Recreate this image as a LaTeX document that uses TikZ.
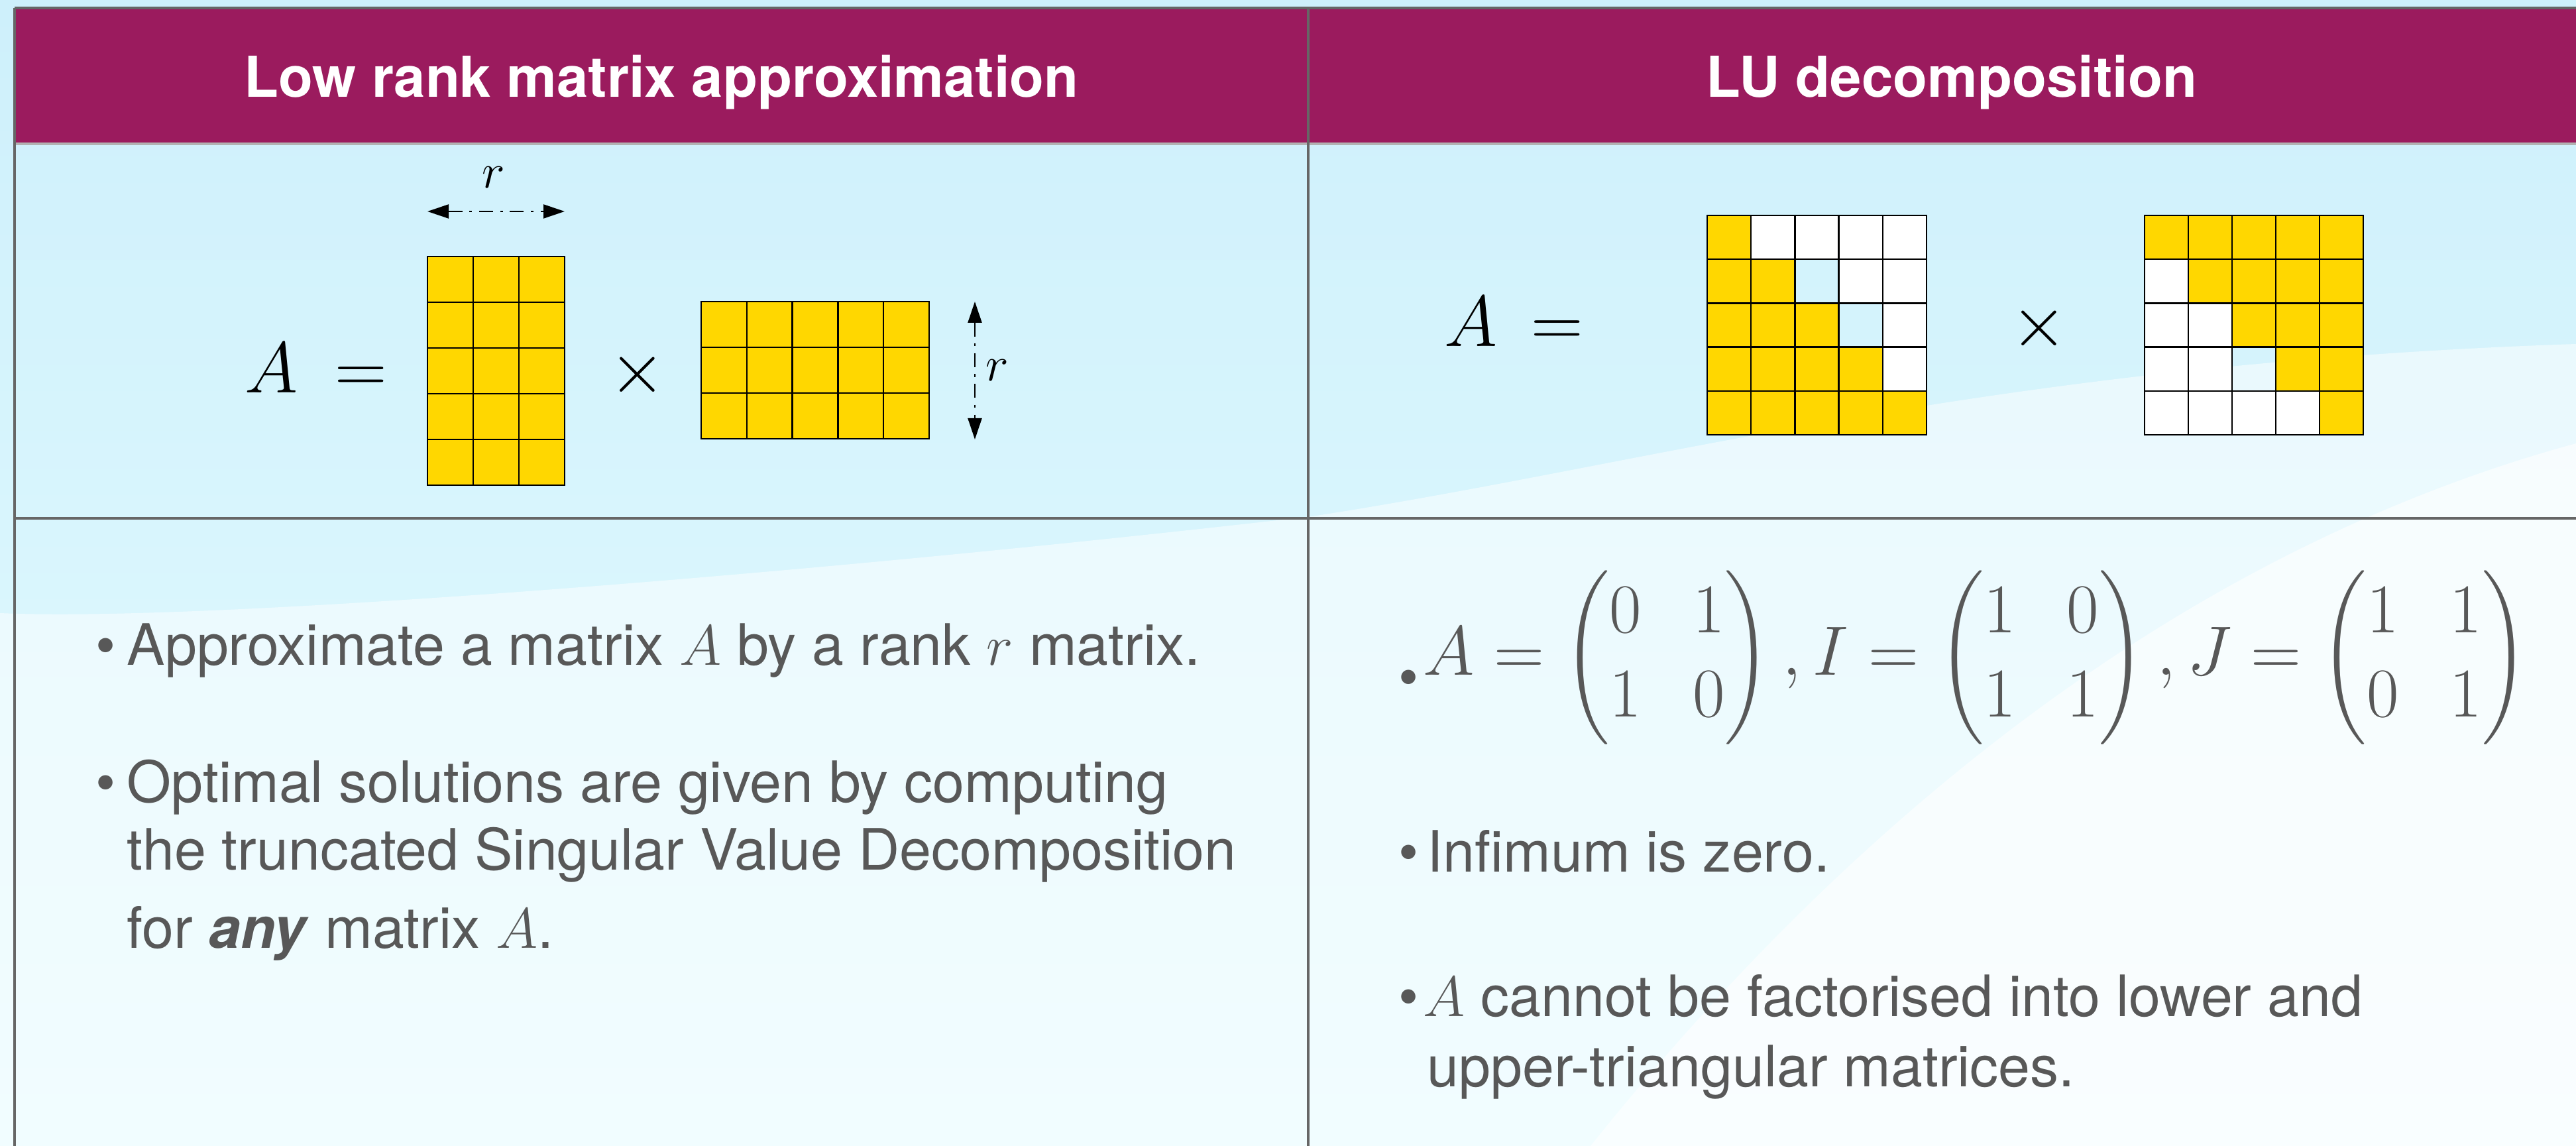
\RequirePackage{fix-cm}
\documentclass[tikz,border=0pt]{standalone}
\usepackage{amsmath}
\usepackage{fontspec}
\setmainfont{TeX Gyre Heros}
\usepackage{tikz}
\usetikzlibrary{arrows.meta, positioning, calc}

\definecolor{hdrplum}{RGB}{155,27,94}
\definecolor{yel}{RGB}{255,215,0}
\definecolor{txtgrey}{RGB}{88,88,88}
\definecolor{skytop}{RGB}{206,240,251}
\definecolor{skylow}{RGB}{228,251,255}

\begin{document}
\begin{tikzpicture}[
    hdr/.style   ={font=\fontsize{24.2}{29}\selectfont\bfseries, text=white, anchor=base, inner sep=0pt},
    txt/.style   ={font=\fontsize{24.5}{29}\selectfont, text=txtgrey, anchor=base west, inner sep=0pt},
    bigm/.style  ={font=\fontsize{31}{37}\selectfont, anchor=base, inner sep=0pt},
    lbl/.style   ={font=\fontsize{21}{25}\selectfont, anchor=base, inner sep=0pt},
    cell/.style  ={draw=black, line width=0.7pt},
    rule/.style  ={draw=black!60, line width=1pt},
    dimarr/.style={line width=0.6pt, dash pattern=on 6pt off 3pt on 1.2pt off 3pt,
                   {Triangle[length=3.2mm,width=2.1mm]}-{Triangle[length=3.2mm,width=2.1mm]}}
  ]

  %% ---- canvas ------------------------------------------------------
  \useasboundingbox (0,0) rectangle (38.87,17.29);
  \shade[top color=skytop, bottom color=skylow] (0,0) rectangle (38.87,17.29);
  \fill[white, opacity=0.5] (0,0) -- (0,8.04)
    .. controls (3,7.9) and (12,8.6) .. (19.8,9.5)
    .. controls (25,10.3) and (30,11.8) .. (38.87,12.1) -- (38.87,0) -- cycle;
  \fill[white, opacity=0.6] (24,0)
    .. controls (28,5) and (33,9) .. (38.87,10.6) -- (38.87,0) -- cycle;

  %% ---- table -------------------------------------------------------
  \fill[hdrplum] (0.22,15.12) rectangle (39,17.17);
  \draw[draw=black!30, line width=1pt] (0.22,15.12) -- (39,15.12);
  \draw[rule, line width=1.3pt] (0.22,17.17) -- (39,17.17);
  \draw[rule] (0.22,17.17) -- (0.22,-0.1);
  \draw[rule] (19.74,17.17) -- (19.74,-0.1);
  \draw[rule, line width=1.2pt] (0.22,9.47) -- (39,9.47);

  \node[hdr] (ttlLR) at (9.98,15.82) {Low rank matrix approximation};
  \node[hdr] (ttlLU) at (29.45,15.82) {LU decomposition};

  %% ---- low rank picture ---------------------------------------------
  \node[bigm] (lrA)  at (4.09,11.36) {$A$};
  \node[bigm] (lrEq) at (5.45,11.36) {$=$};
  \foreach \i in {0,...,2} \foreach \j in {0,...,4}
    \filldraw[cell, fill=yel] (6.45+0.69*\i,13.42-0.69*\j) rectangle ++(0.69,-0.69);
  \node[bigm] (lrX)  at (9.62,11.36) {$\times$};
  \foreach \i in {0,...,4} \foreach \j in {0,...,2}
    \filldraw[cell, fill=yel] (10.58+0.688*\i,12.74-0.69*\j) rectangle ++(0.688,-0.69);

  \coordinate (tallL) at (6.45,14.10);
  \coordinate (tallR) at (8.52,14.10);
  \draw[dimarr] (tallL) -- (tallR);
  \node[lbl] (rTop) at (7.45,14.45) {$r$};
  \coordinate (wideT) at (14.71,12.74);
  \coordinate (wideB) at (14.71,10.66);
  \draw[dimarr] (wideT) -- (wideB);
  \node[lbl] (rSide) at (15.05,11.54) {$r$};

  %% ---- LU picture ----------------------------------------------------
  \node[bigm] (luA)  at (22.19,12.06) {$A$};
  \node[bigm] (luEq) at (23.50,12.06) {$=$};
  \foreach \fills [count=\j from 0] in {{yel,white,white,white,white},
      {yel,yel,none,white,white},{yel,yel,yel,none,white},
      {yel,yel,yel,yel,white},{yel,yel,yel,yel,yel}}
    \foreach \f [count=\i from 0] in \fills
      \filldraw[cell, fill=\f] (25.76+0.662*\i,14.04-0.662*\j) rectangle ++(0.662,-0.662);
  \node[bigm] (luX)  at (30.77,12.06) {$\times$};
  \foreach \fills [count=\j from 0] in {{yel,yel,yel,yel,yel},
      {white,yel,yel,yel,yel},{white,white,yel,yel,yel},
      {white,white,none,yel,yel},{white,white,white,white,yel}}
    \foreach \f [count=\i from 0] in \fills
      \filldraw[cell, fill=\f] (32.36+0.66*\i,14.04-0.662*\j) rectangle ++(0.66,-0.662);

  %% ---- bullet points -------------------------------------------------
  \node[txt] (bulA) at (1.44,7.25) {\textbullet};
  \node[txt] (ptA)  at (1.91,7.25) {Approximate a matrix $A$ by a rank $r$ matrix.};
  \node[txt] (bulB) at (1.44,5.18) {\textbullet};
  \node[txt] (ptB1) at (1.91,5.18) {Optimal solutions are given by computing};
  \node[txt] (ptB2) at (1.91,4.16) {the truncated Singular Value Decomposition};
  \node[txt] (ptB3) at (1.91,2.98) {for \textbf{\textit{any}} matrix $A$.};

  \node[txt] (bulC) at (21.10,6.77) {\textbullet};
  \node[txt, font=\fontsize{30}{36}\selectfont] (ptC) at (21.47,7.10)
    {\setlength{\arraycolsep}{11pt}%
     $A=\begin{pmatrix}0&1\\1&0\end{pmatrix},I=\begin{pmatrix}1&0\\1&1\end{pmatrix},J=\begin{pmatrix}1&1\\0&1\end{pmatrix}$};
  \node[txt] (bulD) at (21.10,4.13) {\textbullet};
  \node[txt] (ptD)  at (21.53,4.13) {Infimum is zero.};
  \node[txt] (bulE) at (21.10,1.95) {\textbullet};
  \node[txt] (ptE1) at (21.47,1.95) {$A$ cannot be factorised into lower and};
  \node[txt] (ptE2) at (21.53,0.89) {upper-triangular matrices.};

\end{tikzpicture}
\end{document}
